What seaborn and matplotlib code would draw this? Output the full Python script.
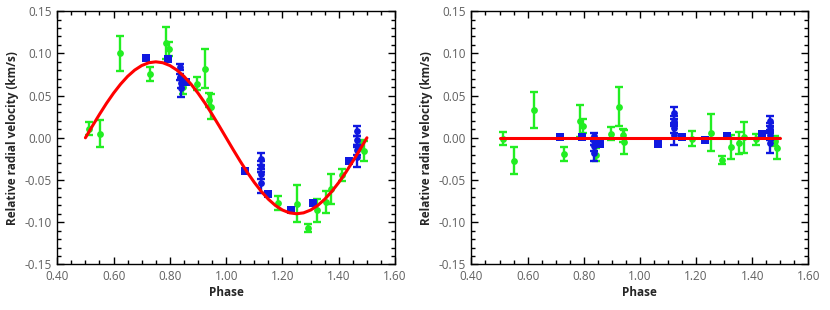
import numpy as np
import matplotlib
matplotlib.use("Agg")
import matplotlib.pyplot as plt
import seaborn as sns
from matplotlib.ticker import MultipleLocator, FormatStrFormatter


# ==========================================
# DATA
# ==========================================

green_phase = [0.514, 0.552, 0.623, 0.729, 0.788, 0.798, 0.845, 0.897, 0.925, 0.938,
               0.945, 1.185, 1.252, 1.291, 1.323, 1.354, 1.371, 1.413, 1.480, 1.488]
green_rv = [0.011, 0.005, 0.100, 0.0755, 0.112, 0.105, 0.060, 0.064, 0.082, 0.045,
            0.037, -0.077, -0.078, -0.107, -0.086, -0.076, -0.061, -0.044, -0.009, -0.016]
green_err = [0.008, 0.016, 0.021, 0.008, 0.019, 0.008, 0.008, 0.0075, 0.023, 0.008,
             0.0145, 0.0085, 0.022, 0.005, 0.014, 0.013, 0.018, 0.007, 0.006, 0.012]
green_resid = [-0.001, -0.027, 0.033, -0.019, 0.020, 0.014, -0.020, 0.005, 0.037, 0.003,
               -0.005, -0.001, 0.006, -0.0265, -0.0107, -0.0067, 0.0005, -0.002, -0.004, -0.0126]

blue_sq_phase = [0.715, 0.792, 0.859, 1.066, 1.149, 1.230, 1.309, 1.435]
blue_sq_rv = [0.094, 0.093, 0.066, -0.039, -0.067, -0.086, -0.077, -0.027]
blue_sq_err = [0.002, 0.002, 0.002, 0.002, 0.002, 0.002, 0.002, 0.002]
blue_sq_resid = [0.001, 0.001, -0.007, -0.0075, 0.0005, -0.003, 0.002, 0.005]

blue_ci_phase = [0.836, 0.836, 0.838, 0.838, 1.122, 1.122, 1.122, 1.122,
                 1.463, 1.463, 1.463, 1.463]
blue_ci_rv = [0.084, 0.072, 0.0645, 0.0585, -0.025, -0.034, -0.043, -0.053,
              0.008, -0.003, -0.0146, -0.0225]
blue_ci_err = [0.004, 0.004, 0.006, 0.010, 0.007, 0.006, 0.006, 0.012,
               0.006, 0.005, 0.006, 0.012]
blue_ci_resid = [0.002, -0.004, -0.010, -0.018, 0.029, 0.020, 0.012, 0.003,
                 0.020, 0.013, 0.003, -0.006]

model_phase = [0.500, 0.525, 0.550, 0.575, 0.600, 0.625, 0.650, 0.675, 0.700, 0.725,
               0.750, 0.775, 0.800, 0.825, 0.850, 0.875, 0.900, 0.925, 0.950, 0.975,
               1.000, 1.025, 1.050, 1.075, 1.100, 1.125, 1.150, 1.175, 1.200, 1.225,
               1.250, 1.275, 1.300, 1.325, 1.350, 1.375, 1.400, 1.425, 1.450, 1.475,
               1.500]
model_rv = [0.0, 0.0141, 0.0278, 0.0409, 0.0529, 0.0636, 0.0728, 0.0802, 0.0856, 0.0889,
            0.0900, 0.0889, 0.0856, 0.0802, 0.0728, 0.0636, 0.0529, 0.0409, 0.0278, 0.0141,
            0.0, -0.0141, -0.0278, -0.0409, -0.0529, -0.0636, -0.0728, -0.0802, -0.0856, -0.0889,
            -0.0900, -0.0889, -0.0856, -0.0802, -0.0728, -0.0636, -0.0529, -0.0409, -0.0278, -0.0141,
            0.0]
resid_model = [0.0] * len(model_phase)

GREEN = "#22ee22"
BLUE = "#1018e0"
RED = "#ff0000"


# ==========================================
# STYLE
# ==========================================

sns.set_style("ticks")
plt.rcParams["font.family"] = ["Open Sans", "DejaVu Sans"]
plt.rcParams["axes.unicode_minus"] = True
plt.rcParams["xtick.direction"] = "in"
plt.rcParams["ytick.direction"] = "in"
plt.rcParams["xtick.top"] = True
plt.rcParams["ytick.right"] = True


def draw_panel(ax, g_y, bs_y, bc_y, m_y):

    ax.errorbar(green_phase, g_y, yerr=green_err, fmt="none",
                ecolor=GREEN, elinewidth=1.7, capsize=2.6, capthick=1.7, zorder=2)
    sns.scatterplot(x=green_phase, y=g_y, ax=ax, color=GREEN, marker="o",
                    s=24, linewidth=0, zorder=3)

    ax.errorbar(blue_ci_phase, bc_y, yerr=blue_ci_err, fmt="none",
                ecolor=BLUE, elinewidth=1.7, capsize=2.6, capthick=1.7, zorder=4)
    sns.scatterplot(x=blue_ci_phase, y=bc_y, ax=ax, color=BLUE, marker="o",
                    s=24, linewidth=0, zorder=5)
    ax.errorbar(blue_sq_phase, bs_y, yerr=blue_sq_err, fmt="none",
                ecolor=BLUE, elinewidth=1.7, capsize=2.6, capthick=1.7, zorder=4)
    sns.scatterplot(x=blue_sq_phase, y=bs_y, ax=ax, color=BLUE, marker="s",
                    s=28, linewidth=0, zorder=5)

    sns.lineplot(x=model_phase, y=m_y, ax=ax, color=RED, linewidth=2.2,
                 zorder=6, sort=False)

    ax.set_xlim(0.40, 1.60)
    ax.set_ylim(-0.15, 0.15)
    ax.xaxis.set_major_locator(MultipleLocator(0.2))
    ax.xaxis.set_minor_locator(MultipleLocator(0.05))
    ax.yaxis.set_major_locator(MultipleLocator(0.05))
    ax.yaxis.set_minor_locator(MultipleLocator(0.01))
    ax.xaxis.set_major_formatter(FormatStrFormatter("%.2f"))
    ax.yaxis.set_major_formatter(FormatStrFormatter("%.2f"))

    ax.tick_params(which="major", length=5, width=1, color="black",
                   labelsize=8.5, labelcolor="#606060", pad=4)
    ax.tick_params(which="minor", length=3, width=1, color="black")
    for side in ax.spines.values():
        side.set_linewidth(1)
        side.set_color("black")

    ax.set_xlabel("Phase", fontsize=8.5, fontweight="bold", labelpad=2)
    ax.set_ylabel("Relative radial velocity (km/s)", fontsize=8.5,
                  fontweight="bold", labelpad=4)


fig = plt.figure(figsize=(8.3, 3.1), dpi=100)

ax1 = fig.add_axes([0.069, 0.147, 0.407, 0.817])
ax2 = fig.add_axes([0.568, 0.147, 0.406, 0.817])

draw_panel(ax1, green_rv, blue_sq_rv, blue_ci_rv, model_rv)
draw_panel(ax2, green_resid, blue_sq_resid, blue_ci_resid, resid_model)

fig.savefig("out.png", dpi=100)
